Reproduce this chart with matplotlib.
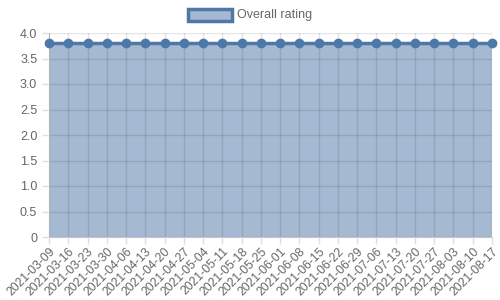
import matplotlib
matplotlib.use('Agg')
import matplotlib.pyplot as plt
from matplotlib.patches import Rectangle

plt.rcParams['font.family'] = ['Liberation Sans', 'DejaVu Sans']

# weekly dates and the overall rating value
dates = ['2021-03-09', '2021-03-16', '2021-03-23', '2021-03-30', '2021-04-06',
         '2021-04-13', '2021-04-20', '2021-04-27', '2021-05-04', '2021-05-11',
         '2021-05-18', '2021-05-25', '2021-06-01', '2021-06-08', '2021-06-15',
         '2021-06-22', '2021-06-29', '2021-07-06', '2021-07-13', '2021-07-20',
         '2021-07-27', '2021-08-03', '2021-08-10', '2021-08-17']
rating = [3.8] * len(dates)
yticks = [0, 0.5, 1.0, 1.5, 2.0, 2.5, 3.0, 3.5, 4.0]
ylabels = ['0', '0.5', '1.0', '1.5', '2.0', '2.5', '3.0', '3.5', '4.0']

line_col = '#4e79a7'
fill_col = '#a6b9d2'
text_col = '#666666'

fig = plt.figure(figsize=(5, 3), dpi=100)
ax = fig.add_axes([0.098, 0.21, 0.886, 0.68])

x = list(range(len(dates)))
ax.fill_between(x, 0, rating, color=fill_col, lw=0, zorder=2)
ax.plot(x, rating, color=line_col, lw=2.5, marker='o', ms=6,
        mfc=line_col, mec=line_col, zorder=3, clip_on=False)

ax.set_xlim(0, len(dates) - 1)
ax.set_ylim(0, 4)
ax.set_xticks(x)
ax.set_xticklabels(dates, rotation=45, ha='right', rotation_mode='anchor')
ax.set_yticks(yticks)
ax.set_yticklabels(ylabels)
ax.tick_params(colors='#e0e0e0', labelcolor=text_col, labelsize=9, length=5, width=1)
ax.tick_params(axis='x', pad=1, labelsize=8.8)
ax.grid(True, color='black', alpha=0.1, lw=1, zorder=2.5)
ax.set_axisbelow(False)
for s in ['top', 'right']:
    ax.spines[s].set_visible(False)
for s in ['left', 'bottom']:
    ax.spines[s].set_color('#c8c8c8')

# legend drawn by hand, like the chart.js box
fig.patches.append(Rectangle((188 / 500, 1 - 21 / 300), 44 / 500, 12 / 300,
                             transform=fig.transFigure, facecolor=fill_col,
                             edgecolor=line_col, lw=2.5))
fig.text(237 / 500, 1 - 15 / 300, 'Overall rating', color=text_col,
         fontsize=9, va='center', ha='left')

fig.savefig('out.png', dpi=100)
